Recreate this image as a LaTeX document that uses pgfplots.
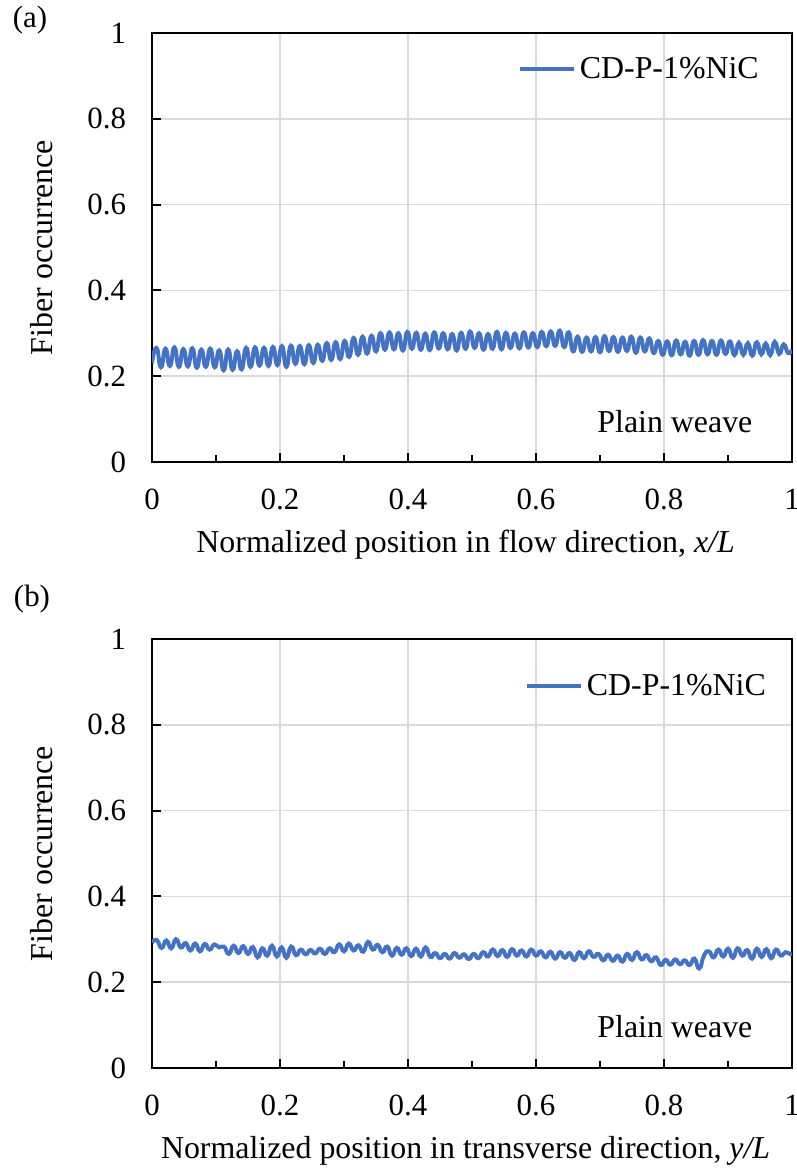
\documentclass[border=0pt]{standalone}
\usepackage{fontspec}
\setmainfont{Liberation Serif}
\usepackage{pgfplots}
\pgfplotsset{compat=1.18}
\definecolor{lineblue}{HTML}{4472C4}
\definecolor{gridgray}{HTML}{D9D9D9}

\pgfplotsset{
  panel/.style={
    width=320bp, height=214.5bp, scale only axis,
    xmin=0, xmax=1, ymin=0, ymax=1,
    xtick={0,0.2,0.4,0.6,0.8,1},
    ytick={0,0.2,0.4,0.6,0.8,1},
    minor xtick={0.1,0.3,0.5,0.7,0.9},
    xtick pos=bottom, ytick pos=left, tick align=inside,
    major tick length=4.5bp, minor tick length=3.5bp,
    xmajorgrids, ymajorgrids,
    grid style={gridgray, line width=0.8bp},
    axis line style={line width=1bp},
    tick style={black, line width=1bp},
    /pgf/number format/assume math mode=true,
    ticklabel style={font=\fontsize{15.5}{18}\selectfont},
    xticklabel style={yshift=-10bp},
    yticklabel style={xshift=-9.5bp},
    label style={font=\fontsize{16}{19}\selectfont},
    xlabel style={at={(axis description cs:0.49,-0.21)}, anchor=base},
    ylabel style={at={(axis description cs:-0.172,0.5)}, anchor=center},
    ylabel={Fiber occurrence},
    legend style={draw=none, fill=none, anchor=west, inner sep=0pt,
      font=\fontsize{16}{19}\selectfont},
    legend cell align=left,
    legend image code/.code={\draw[#1, line width=1.7bp] (0bp,0bp) -- (27bp,0bp);},
  }
}

\begin{document}
\begin{tikzpicture}
\useasboundingbox (0,0) rectangle (398.5bp,585.5bp);

% (a) flow direction
\begin{axis}[panel, at={(76bp,354.5bp)}, anchor=south west,
  xlabel={Normalized position in flow direction, \textit{x/L}},
  legend style={at={(axis description cs:0.572,0.916)}}]
\addplot[lineblue, line width=2bp, smooth, tension=1, mark=none] coordinates {
(0,.230) (.007,.266) (.014,.221) (.021,.264) (.028,.224) (.035,.267) (.042,.222) (.049,.263)
(.056,.223) (.063,.265) (.07,.220) (.077,.262) (.084,.222) (.091,.264) (.098,.221)
(.105,.260) (.112,.214) (.119,.262) (.126,.215) (.133,.258) (.14,.216)
(.147,.266) (.154,.222) (.161,.267) (.168,.225) (.175,.266) (.182,.224) (.189,.268) (.196,.226)
(.203,.270) (.21,.222) (.217,.271) (.224,.229) (.231,.270) (.238,.228) (.245,.272) (.252,.231) (.259,.273)
(.266,.236) (.273,.277) (.28,.238) (.287,.279) (.294,.240) (.301,.282) (.308,.245)
(.315,.289) (.322,.250) (.329,.292) (.336,.253) (.343,.294) (.35,.258)
(.357,.300) (.364,.262) (.371,.302) (.378,.263) (.385,.300) (.392,.260) (.399,.303) (.406,.264)
(.413,.301) (.42,.262) (.427,.299) (.434,.261) (.441,.302) (.448,.265) (.455,.300) (.462,.263)
(.469,.298) (.476,.260) (.483,.301) (.49,.264) (.497,.304)
(.504,.266) (.511,.300) (.518,.262) (.525,.298) (.532,.264) (.539,.303) (.546,.263) (.553,.301)
(.56,.266) (.567,.299) (.574,.265) (.581,.302) (.588,.267) (.595,.300)
(.602,.268) (.609,.303) (.616,.270) (.623,.304) (.63,.271) (.637,.306) (.644,.268) (.651,.302)
(.658,.258) (.665,.292) (.672,.257) (.679,.290) (.686,.258) (.693,.291) (.7,.256) (.707,.293)
(.714,.259) (.721,.291) (.728,.257) (.735,.290) (.742,.259) (.749,.292) (.756,.255) (.763,.290)
(.77,.258) (.777,.288) (.784,.254)
(.791,.282) (.798,.250) (.805,.281) (.812,.249) (.819,.283) (.826,.251) (.833,.280) (.84,.248)
(.847,.282) (.854,.250)
(.861,.284) (.868,.251) (.875,.282) (.882,.250) (.889,.283) (.896,.252) (.903,.281) (.91,.249)
(.917,.278) (.924,.250) (.931,.277) (.938,.248) (.945,.279) (.952,.251) (.959,.276) (.966,.249)
(.973,.280) (.98,.252) (.987,.274) (.994,.254) (1,.262)
};
\addlegendentry{CD-P-1\%NiC}
\node[anchor=base, font=\fontsize{16}{19}\selectfont] at (axis description cs:0.817,0.068) {Plain weave};
\end{axis}

% (b) transverse direction
\begin{axis}[panel, at={(76bp,51.5bp)}, anchor=south west,
  xlabel={Normalized position in transverse direction, \textit{y/L}},
  legend style={at={(axis description cs:0.583,0.890)}}]
\addplot[lineblue, line width=2bp, smooth, tension=1, mark=none] coordinates {
(0,.292) (.0075,.298) (.015,.280) (.0225,.297) (.03,.279) (.0375,.300) (.045,.281)
(.0525,.291) (.06,.274) (.0675,.290) (.075,.272) (.0825,.289) (.09,.276) (.0975,.288)
(.105,.281) (.1125,.283) (.12,.266) (.1275,.285) (.135,.268) (.1425,.284) (.15,.266)
(.1575,.282) (.165,.258) (.1725,.279) (.18,.262) (.1875,.285) (.195,.260) (.2025,.281) (.21,.257)
(.2175,.283) (.225,.263)
(.2325,.276) (.24,.265) (.2475,.275) (.255,.267) (.2625,.278) (.27,.266) (.2775,.279)
(.285,.270) (.2925,.288) (.3,.272) (.3075,.290) (.315,.274) (.3225,.286) (.33,.271) (.3375,.294)
(.345,.276) (.3525,.287) (.36,.270)
(.3675,.283) (.375,.262) (.3825,.280) (.39,.264) (.3975,.279) (.405,.261) (.4125,.278) (.42,.260)
(.4275,.281) (.435,.259)
(.4425,.268) (.45,.256) (.4575,.266) (.465,.255) (.4725,.268) (.48,.257) (.4875,.265) (.495,.254)
(.5025,.266) (.51,.256) (.5175,.270)
(.525,.260) (.5325,.276) (.54,.261) (.5475,.275) (.555,.259) (.5625,.277) (.57,.262) (.5775,.274)
(.585,.260) (.5925,.276) (.6,.262)
(.6075,.272) (.615,.258) (.6225,.271) (.63,.255) (.6375,.270) (.645,.257) (.6525,.268) (.66,.252)
(.6675,.270) (.675,.256) (.6825,.272) (.69,.259) (.6975,.266)
(.705,.251) (.7125,.264) (.72,.250) (.7275,.262) (.735,.248) (.7425,.266) (.75,.252) (.7575,.270)
(.765,.253) (.7725,.263) (.78,.249)
(.7875,.258) (.795,.240) (.8025,.252) (.81,.241) (.8175,.253) (.825,.242) (.8325,.251) (.84,.240)
(.8475,.255) (.855,.232)
(.8625,.262) (.87,.272) (.8775,.258) (.885,.276) (.8925,.260) (.9,.278) (.9075,.257) (.915,.279)
(.9225,.262) (.93,.275) (.9375,.255) (.945,.278) (.9525,.259) (.96,.277) (.9675,.256) (.975,.276)
(.9825,.262) (.99,.270) (.9975,.265) (1,.268)
};
\addlegendentry{CD-P-1\%NiC}
\node[anchor=base, font=\fontsize{16}{19}\selectfont] at (axis description cs:0.817,0.070) {Plain weave};
\end{axis}

\node[font=\fontsize{15.5}{18}\selectfont] at (15bp,575.5bp) {(a)};
\node[font=\fontsize{15.5}{18}\selectfont] at (16bp,286bp) {(b)};
\end{tikzpicture}
\end{document}
